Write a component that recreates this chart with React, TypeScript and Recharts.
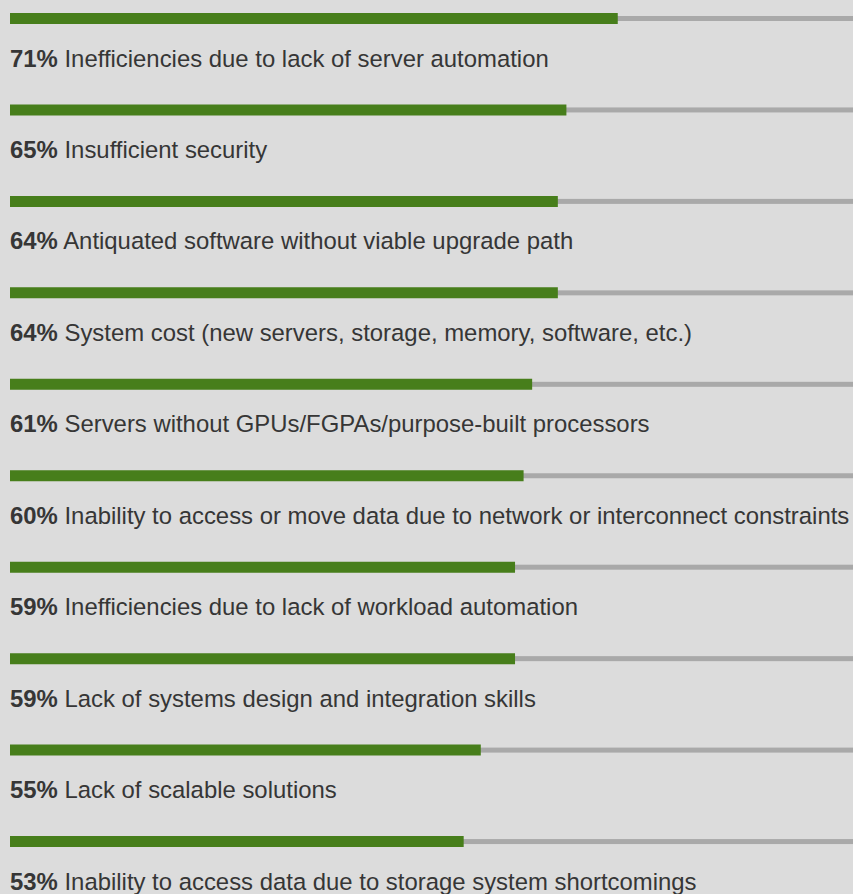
import React from "react";
import { Bar, BarChart, LabelList, XAxis, YAxis } from "recharts";

// values
const labels = [
  "Inefficiencies due to lack of server automation",
  "Insufficient security",
  "Antiquated software without viable upgrade path",
  "System cost (new servers, storage, memory, software, etc.)",
  "Servers without GPUs/FGPAs/purpose-built processors",
  "Inability to access or move data due to network or interconnect constraints",
  "Inefficiencies due to lack of workload automation",
  "Lack of systems design and integration skills",
  "Lack of scalable solutions",
  "Inability to access data due to storage system shortcomings",
];
const percents = [71, 65, 64, 64, 61, 60, 59, 59, 55, 53];

const data = labels.map((name, i) => ({ name, value: percents[i] }));

const GREEN = "#477e1b";
const TRACK = "#a9a9a9";
const BG = "#dcdcdc";
const FONT = "'Liberation Sans', Arial, Helvetica, sans-serif";

// thin gray track behind each bar
const Track = (props: any) => {
  const { x, y, width, height } = props;
  return <rect x={x} y={y + height / 2 - 2.5} width={width} height={5} fill={TRACK} />;
};

// "71% Label" drawn under the bar
const RowLabel = (props: any) => {
  const { x, y, value } = props;
  const i = labels.indexOf(value);
  return (
    <text x={x} y={y + 53.5} fontSize={23.9} fontFamily={FONT} fill="#363636">
      <tspan fontWeight="bold">{percents[i]}%</tspan>
      <tspan> {value}</tspan>
    </text>
  );
};

export default function App() {
  return (
    <div
      style={{
        position: "absolute",
        left: 0,
        top: 0,
        width: 853,
        height: 894,
        overflow: "hidden",
        background: BG,
      }}
    >
      <div style={{ position: "absolute", left: 0, top: -27.2 }}>
        <BarChart
          width={866}
          height={954.5}
          data={data}
          layout="vertical"
          margin={{ top: 0, right: 0, bottom: 40, left: 10 }}
        >
          <XAxis type="number" domain={[0, 100]} hide />
          <YAxis type="category" dataKey="name" hide />
          <Bar
            dataKey="value"
            fill={GREEN}
            barSize={11}
            background={Track}
            isAnimationActive={false}
          >
            <LabelList dataKey="name" content={RowLabel} />
          </Bar>
        </BarChart>
      </div>
    </div>
  );
}
